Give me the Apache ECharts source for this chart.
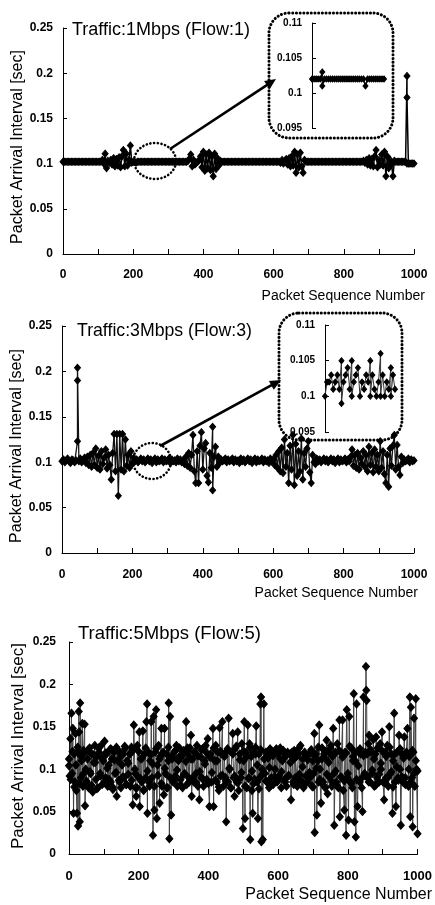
<!DOCTYPE html>
<html><head><meta charset="utf-8">
<script src="https://cdn.jsdelivr.net/npm/echarts@6/dist/echarts.min.js"></script>
<style>html,body{margin:0;padding:0;background:#fff}#c{width:435px;height:905px}</style>
</head><body><div id="c"></div>
<script>
// Packet arrival interval [sec], sampled every 4th packet (0,4,...,1000).
// A nested array means several packets plotted at the same sequence number.
const flow1 = [
.102,.102,.102,.102,.102,.102,.102,.102,.102,.102,
.102,.102,.102,.102,.102,.102,.102,.102,.102,.102,
.102,.102,.102,.102,.102,.102,.102,.102,.104,.100,
.111,.095,.103,.101,.104,.099,.106,.097,.105,.098,
.107,.096,.108,.115,.097,.111,.098,.104,.120,.101,
.102,.102,.101,.102,.102,.102,.102,.102,.102,.102,
.102,.102,.102,.102,.102,.102,.102,.102,.102,.102,
.102,.102,.102,.102,.102,.102,.102,.102,.102,.102,
.102,.102,.102,.102,.102,.102,.102,.102,.102,.103,
.105,.110,.097,.104,.099,.101,.102,.104,.108,.096,
.113,.092,.110,.095,.112,.093,.108,.086,.111,.094,
.106,.098,.103,.102,.102,.102,.102,.102,.102,.102,
.102,.102,.102,.102,.102,.102,.102,.102,.102,.102,
.102,.102,.102,.102,.102,.102,.102,.102,.102,.102,
.102,.102,.102,.102,.102,.102,.102,.102,.102,.102,
.102,.102,.102,.102,.102,.101,.104,.100,.103,.105,
.099,.106,.097,.108,.098,.113,.090,.110,.096,.112,
.097,.090,.104,.102,.102,.102,.102,.102,.102,.102,
.102,.102,.102,.102,.102,.102,.102,.102,.102,.102,
.102,.102,.102,.102,.102,.102,.102,.102,.102,.102,
.102,.102,.102,.102,.102,.102,.102,.102,.102,.102,
.102,.102,.102,.102,.103,.101,.104,.099,.106,.098,
.105,.097,.108,.115,.096,.104,.099,.110,.098,.113,
.086,.108,.095,.104,.099,.086,.103,.102,.102,.102,
.102,.102,.102,.102,.102,[.100,.197,.173],.100,.100,.100,.100,
.100
];
const flow3 = [
.101,.103,.100,.102,.104,.101,.099,.103,.102,.100,
.102,[.123,.190,.204],.101,.104,.100,.102,.105,.099,.106,.097,
.108,.095,.110,.097,.115,.094,.107,.092,.112,.098,
.105,.114,.093,.108,.097,.081,.110,.131,.090,.131,
.063,.131,.092,.131,.090,.125,.096,.108,.094,.112,
.099,.105,.101,.103,.100,.102,.104,.101,.103,.100,
.102,.104,.101,.103,.099,.102,.104,.100,.103,.101,
.102,.104,.100,.103,.101,.102,.104,.099,.103,.101,
.102,.100,.104,.101,.103,.100,.102,.098,.106,.096,
.110,.094,.108,.130,.090,.077,.112,.077,.118,.133,
.092,.115,.121,.085,.078,.110,.094,[.139,.069],.106,.117,
.095,.106,.099,.103,.101,.102,.104,.100,.103,.101,
.102,.104,.100,.103,.101,.102,.099,.104,.101,.103,
.100,.102,.104,.101,.103,.099,.102,.104,.100,.103,
.101,.102,.104,.100,.103,.101,.102,.099,.104,.101,
.103,.097,.108,.094,.112,.090,.116,.088,.125,.095,
.110,.077,.118,.092,.130,.075,.120,.085,.112,.090,
.126,.081,.110,.095,.115,.123,.089,.077,.108,.100,
.098,.104,.101,.103,.100,.102,.104,.101,.103,.100,
.102,.104,.101,.103,.099,.102,.104,.100,.103,.101,
.102,.104,.100,.103,.101,.106,.114,.096,.108,.094,
.110,.092,.105,.098,.112,.095,.108,.090,.117,.097,
.110,.089,.114,.095,.108,.090,.123,.094,.112,.087,
.077,.108,.073,.115,.096,.118,.130,.092,.119,.095,
.086,.106,.099,.103,.101,.102,.104,.100,.103,.101,
.102
];
// Flow 5, outlying packets: [packet sequence number, interval]
const flow5 = [
[0,.104],[2,.092],[4,.136],[7,.166],[9,.095],[11,.148],[13,.048],[15,.118],[17,.085],[19,.142],
[21,.075],[23,.048],[25,.12],[26,.033],[28,.168],[29,.144],[31,.038],[32,.178],[34,.09],[36,.11],
[38,.154],[40,.08],[42,.122],[45,.153],[46,.057],[48,.1],[50,.085],[53,.112],[56,.078],[59,.125],
[62,.095],[65,.118],[68,.073],[71,.108],[74,.128],[77,.088],[80,.115],[83,.078],[86,.12],[89,.095],
[92,.128],[95,.082],[98,.11],[102,.133],[105,.09],[108,.118],[111,.08],[114,.105],[117,.123],[120,.085],
[123,.112],[126,.076],[129,.12],[132,.095],[136,.126],[137,.068],[140,.11],[143,.087],[146,.12],[149,.078],
[152,.105],[155,.118],[158,.09],[161,.124],[164,.082],[167,.11],[170,.094],[173,.118],[176,.08],[179,.126],
[183,.058],[186,.152],[189,.1],[191,.078],[193,.068],[196,.128],[199,.09],[202,.144],[203,.056],[206,.112],
[209,.085],[212,.145],[214,.075],[217,.118],[220,.09],[222,.156],[224,.177],[225,.048],[228,.12],[231,.08],
[233,.11],[236,.156],[238,.09],[241,.022],[243,.162],[245,.052],[247,.12],[250,.17],[252,.042],[254,.105],
[257,.128],[260,.06],[262,.115],[265,.148],[267,.08],[270,.12],[272,.07],[274,.148],[277,.095],[280,.118],
[283,.078],[285,.11],[286,.178],[288,.018],[290,.162],[293,.046],[296,.112],[299,.085],[302,.12],[305,.092],
[308,.128],[311,.08],[314,.11],[317,.125],[320,.088],[323,.115],[326,.078],[329,.122],[332,.095],[336,.156],
[338,.082],[341,.118],[344,.09],[347,.125],[350,.14],[352,.068],[355,.112],[358,.085],[361,.12],[364,.095],
[367,.128],[370,.08],[374,.064],[377,.115],[380,.09],[383,.124],[386,.08],[389,.11],[392,.128],[395,.088],
[398,.136],[403,.056],[406,.118],[409,.085],[413,.148],[415,.056],[418,.11],[421,.128],[424,.085],[427,.12],
[430,.075],[432,.149],[435,.092],[438,.118],[440,.156],[443,.08],[446,.115],[449,.09],[451,.038],[454,.122],
[456,.085],[458,.16],[461,.1],[464,.078],[467,.12],[470,.142],[473,.09],[475,.068],[478,.125],[481,.085],
[484,.144],[487,.075],[490,.118],[493,.09],[496,.13],[499,.03],[501,.11],[503,.156],[505,.042],[508,.12],
[510,.078],[513,.152],[516,.09],[518,.13],[520,.017],[523,.115],[525,.075],[527,.048],[530,.12],[533,.088],
[535,.126],[537,.151],[540,.085],[542,.042],[545,.118],[547,.09],[549,.177],[551,.185],[552,.0145],[554,.1],
[556,.017],[559,.177],[562,.095],[565,.12],[568,.085],[571,.113],[574,.078],[577,.124],[580,.09],[583,.117],
[586,.082],[589,.121],[591,.1],[594,.122],[597,.085],[600,.118],[603,.092],[606,.125],[609,.078],[612,.11],
[615,.12],[618,.088],[621,.115],[624,.08],[627,.12],[630,.092],[634,.118],[637,.064],[640,.11],[643,.085],
[646,.122],[649,.09],[652,.115],[655,.08],[658,.118],[661,.094],[664,.128],[667,.085],[670,.112],[673,.078],
[676,.12],[679,.092],[682,.115],[685,.085],[688,.118],[691,.09],[694,.12],[697,.08],[700,.11],[702,.095],
[704,.142],[705,.0255],[708,.118],[711,.046],[714,.11],[716,.085],[718,.152],[720,.1],[723,.06],[726,.125],
[729,.085],[732,.118],[735,.078],[737,.112],[739,.134],[742,.071],[745,.12],[748,.09],[751,.128],[754,.08],
[756,.115],[758,.148],[760,.095],[761,.034],[764,.12],[767,.085],[770,.13],[773,.078],[776,.158],[777,.044],
[780,.12],[783,.09],[785,.158],[787,.075],[790,.052],[792,.12],[795,.022],[797,.17],[799,.09],[802,.04],
[804,.162],[807,.085],[810,.125],[813,.078],[815,.115],[817,.189],[819,.038],[821,.11],[823,.02],[825,.177],
[828,.056],[831,.12],[834,.085],[837,.118],[840,.09],[842,.05],[845,.185],[848,.095],[850,.12],[852,.221],
[853,.193],[854,.181],[857,.09],[859,.13],[861,.14],[864,.085],[867,.12],[870,.095],[873,.135],[876,.08],
[879,.118],[881,.138],[884,.09],[887,.125],[890,.085],[893,.13],[895,.1],[898,.144],[901,.085],[904,.064],
[907,.12],[910,.09],[913,.128],[916,.08],[919,.15],[922,.095],[925,.118],[928,.048],[930,.11],[933,.166],
[935,.085],[938,.056],[941,.12],[944,.09],[947,.14],[950,.1],[952,.034],[955,.118],[958,.085],[962,.138],
[965,.09],[968,.12],[971,.148],[974,.08],[976,.115],[978,.185],[979,.044],[981,.173],[984,.09],[986,.032],
[988,.12],[990,.16],[992,.08],[995,.183],[997,.1],[1000,.024]
];
// Flow 5, core packets every 5th sequence number (0,5,...,1000)
const flow5Core = [
.112,.088,.121,.079,.105,.126,.083,.115,.094,.119,
.086,.123,.097,.081,.117,.108,.077,.125,.092,.113,
.084,.119,.101,.088,.124,.079,.111,.096,.122,.085,
.116,.091,.127,.082,.107,.118,.087,.123,.095,.078,
.121,.089,.113,.076,.125,.098,.084,.117,.106,.080,
.124,.093,.112,.083,.119,.101,.078,.126,.090,.115,
.087,.122,.099,.114,.081,.118,.094,.109,.125,.085,
.112,.090,.120,.084,.116,.097,.123,.088,.106,.119,
.083,.114,.096,.125,.087,.110,.079,.121,.093,.117,
.086,.124,.101,.078,.118,.092,.127,.084,.111,.096,
.121,.080,.115,.089,.126,.098,.083,.118,.105,.077,
.123,.094,.112,.086,.119,.102,.081,.116,.091,.124,
.088,.113,.097,.122,.085,.117,.093,.108,.120,.082,
.114,.090,.125,.087,.103,.119,.084,.111,.096,.123,
.079,.116,.101,.126,.088,.112,.081,.121,.094,.108,
.125,.085,.117,.098,.080,.122,.091,.114,.086,.119,
.095,.127,.083,.110,.120,.088,.104,.124,.078,.116,
.092,.118,.085,.123,.099,.112,.081,.125,.094,.107,
.121,.084,.115,.090,.126,.097,.079,.118,.103,.087,
.124,.091,.113,.082,.119,.100,.085,.122,.095,.110,
.098
];
// Zoomed insets, one value every 2 packets
const inset1 = [
.102,.102,.102,.102,.102,[.103,.101],.102,.102,.102,.102,
.102,.102,.102,.102,.102,.102,.102,.102,.102,.102,
.102,.102,.102,.102,.102,.102,.101,.102,.102,.102,
.102,.102,.102,.102,.102,.102
];
const inset3 = [
.100,.102,.102,.103,.101,.102,.103,.101,[.105,.099],.102,
.103,.104,.101,[.105,.100],.102,.103,.104,.100,.102,.101,
.103,.102,[.105,.100],.103,.101,.100,.102,[.106,.100],.103,.100,
.102,.101,[.104,.100],.103,.101
];
const yTicksMain = [0, 0.05, 0.1, 0.15, 0.2, 0.25];
const titles = ['Traffic:1Mbps (Flow:1)', 'Traffic:3Mbps (Flow:3)', 'Traffic:5Mbps (Flow:5)'];
const yName = 'Packet Arrival Interval [sec]';
const xName = 'Packet Sequence Number';

function toPairs(arr, step) {
  const out = [];
  arr.forEach((v, i) => { (Array.isArray(v) ? v : [v]).forEach(y => out.push([i * step, y])); });
  return out;
}
const flow5All = flow5.concat(toPairs(flow5Core, 5)).map((p, i) => [p[0], p[1], i])
  .sort((a, b) => a[0] - b[0] || a[2] - b[2]).map(p => [p[0], p[1]]);

const FONT = '"Liberation Sans", Arial, Helvetica, sans-serif';
const grids = [
  {left: 63, top: 28, width: 351, height: 226},
  {left: 62, top: 326, width: 352, height: 227},
  {left: 69, top: 642, width: 349, height: 212},
  {left: 312, top: 23, width: 72, height: 105},
  {left: 325, top: 325, width: 70, height: 107}
];
const xLabelSize = [12, 12, 13];
const xLabelMargin = [15, 16, 16];
const yLabelMargin = [10, 10, 13];

const xAxes = [], yAxes = [];
for (let k = 0; k < 3; k++) {
  xAxes.push({
    gridIndex: k, type: 'value', min: 0, max: 1000, interval: 100,
    axisLine: {show: true, onZero: false, lineStyle: {color: '#000', width: 1}},
    axisTick: {show: true, inside: true, length: 5, lineStyle: {color: '#000'}},
    splitLine: {show: false},
    axisLabel: {color: '#000', fontFamily: FONT, fontWeight: 'bold', fontSize: xLabelSize[k], margin: xLabelMargin[k],
      formatter: v => (v % 200 === 0 ? String(v) : '')}
  });
  yAxes.push({
    gridIndex: k, type: 'value', min: 0, max: 0.25, interval: 0.05,
    axisLine: {show: true, onZero: false, lineStyle: {color: '#000', width: 1}},
    axisTick: {show: true, inside: true, length: 4, lineStyle: {color: '#000'}},
    splitLine: {show: false},
    axisLabel: {color: '#000', fontFamily: FONT, fontWeight: 'bold', fontSize: 12, margin: yLabelMargin[k],
      formatter: v => { const t = yTicksMain.find(x => Math.abs(x - v) < 1e-9); return t === undefined ? '' : String(t); }}
  });
}
[70, 68].forEach((mx, j) => {
  xAxes.push({gridIndex: 3 + j, type: 'value', min: 0, max: mx, show: false});
  yAxes.push({
    gridIndex: 3 + j, type: 'value', min: 0.095, max: 0.11, interval: 0.005,
    axisLine: {show: true, onZero: false, lineStyle: {color: '#000', width: 1}},
    axisTick: {show: true, inside: true, length: 4, lineStyle: {color: '#000'}},
    splitLine: {show: false},
    axisLabel: {color: '#000', fontFamily: FONT, fontWeight: 'bold', fontSize: 10, margin: 10,
      formatter: v => String(+v.toFixed(3))}
  });
});

function ser(data, idx, size, lineColor, lineWidth) {
  return {
    type: 'line', xAxisIndex: idx, yAxisIndex: idx, data: data,
    symbol: 'diamond', symbolSize: size, showAllSymbol: true, showSymbol: true,
    lineStyle: {color: lineColor, width: lineWidth},
    itemStyle: {color: '#000', borderColor: '#000', borderWidth: 1},
    silent: true, animation: false, z: 3
  };
}

function arrow(x1, y1, x2, y2) {
  const dx = x2 - x1, dy = y2 - y1, L = Math.hypot(dx, dy), ux = dx / L, uy = dy / L;
  const hl = 11, hw = 5;
  const bx = x2 - ux * hl, by = y2 - uy * hl;
  return [
    {type: 'line', z: 100, shape: {x1: x1, y1: y1, x2: x2 - ux * 6, y2: y2 - uy * 6}, style: {stroke: '#000', lineWidth: 2.6}},
    {type: 'polygon', z: 100, shape: {points: [[x2, y2], [bx - uy * hw, by + ux * hw], [bx + uy * hw, by - ux * hw]]}, style: {fill: '#000'}}
  ];
}
const dotted = {stroke: '#000', lineWidth: 3, lineDash: [0.1, 3.6], lineCap: 'round', fill: 'none'};

const graphics = [
  {type: 'text', z: 100, left: 72, top: 21, style: {text: titles[0], font: '18px ' + FONT, fill: '#000'}},
  {type: 'text', z: 100, left: 77, top: 322, style: {text: titles[1], font: '17.7px ' + FONT, fill: '#000'}},
  {type: 'text', z: 100, left: 78, top: 624, style: {text: titles[2], font: '18.5px ' + FONT, fill: '#000'}},
  {type: 'text', z: 100, x: 18, y: 147, rotation: Math.PI / 2, style: {text: yName, font: '16px ' + FONT, fill: '#000', align: 'center', verticalAlign: 'middle'}},
  {type: 'text', z: 100, x: 17, y: 446, rotation: Math.PI / 2, style: {text: yName, font: '16px ' + FONT, fill: '#000', align: 'center', verticalAlign: 'middle'}},
  {type: 'text', z: 100, x: 18, y: 746, rotation: Math.PI / 2, style: {text: yName, font: '17px ' + FONT, fill: '#000', align: 'center', verticalAlign: 'middle'}},
  {type: 'text', z: 100, x: 425, y: 296, style: {text: xName, font: '14px ' + FONT, fill: '#000', align: 'right', verticalAlign: 'middle'}},
  {type: 'text', z: 100, x: 418, y: 593, style: {text: xName, font: '14px ' + FONT, fill: '#000', align: 'right', verticalAlign: 'middle'}},
  {type: 'text', z: 100, x: 432, y: 895, style: {text: xName, font: '16px ' + FONT, fill: '#000', align: 'right', verticalAlign: 'middle'}},
  {type: 'rect', z: 100, shape: {x: 269, y: 13, width: 124, height: 125, r: 20}, style: dotted},
  {type: 'rect', z: 100, shape: {x: 279, y: 313, width: 123, height: 127, r: 20}, style: dotted},
  {type: 'ellipse', z: 100, shape: {cx: 155, cy: 161, rx: 21, ry: 18}, style: Object.assign({}, dotted, {lineWidth: 2.6})},
  {type: 'ellipse', z: 100, shape: {cx: 152, cy: 461, rx: 19, ry: 18}, style: Object.assign({}, dotted, {lineWidth: 2.6})}
].concat(arrow(170, 149, 276, 79), arrow(160, 446, 281, 380));

const chart = echarts.init(document.getElementById('c'), null, {renderer: 'canvas'});
chart.setOption({
  animation: false,
  backgroundColor: '#fff',
  textStyle: {fontFamily: FONT},
  grid: grids,
  xAxis: xAxes,
  yAxis: yAxes,
  series: [
    ser(toPairs(flow1, 4), 0, [6, 7], '#000', 1.5),
    ser(toPairs(flow3, 4), 1, [6, 7], '#111', 1.3),
    ser(flow5All, 2, [7, 8], '#444', 1),
    ser(toPairs(inset1, 2), 3, [5, 6], '#000', 1.2),
    ser(toPairs(inset3, 2), 4, [5, 6], '#333', 1)
  ],
  graphic: graphics
});
</script></body></html>
